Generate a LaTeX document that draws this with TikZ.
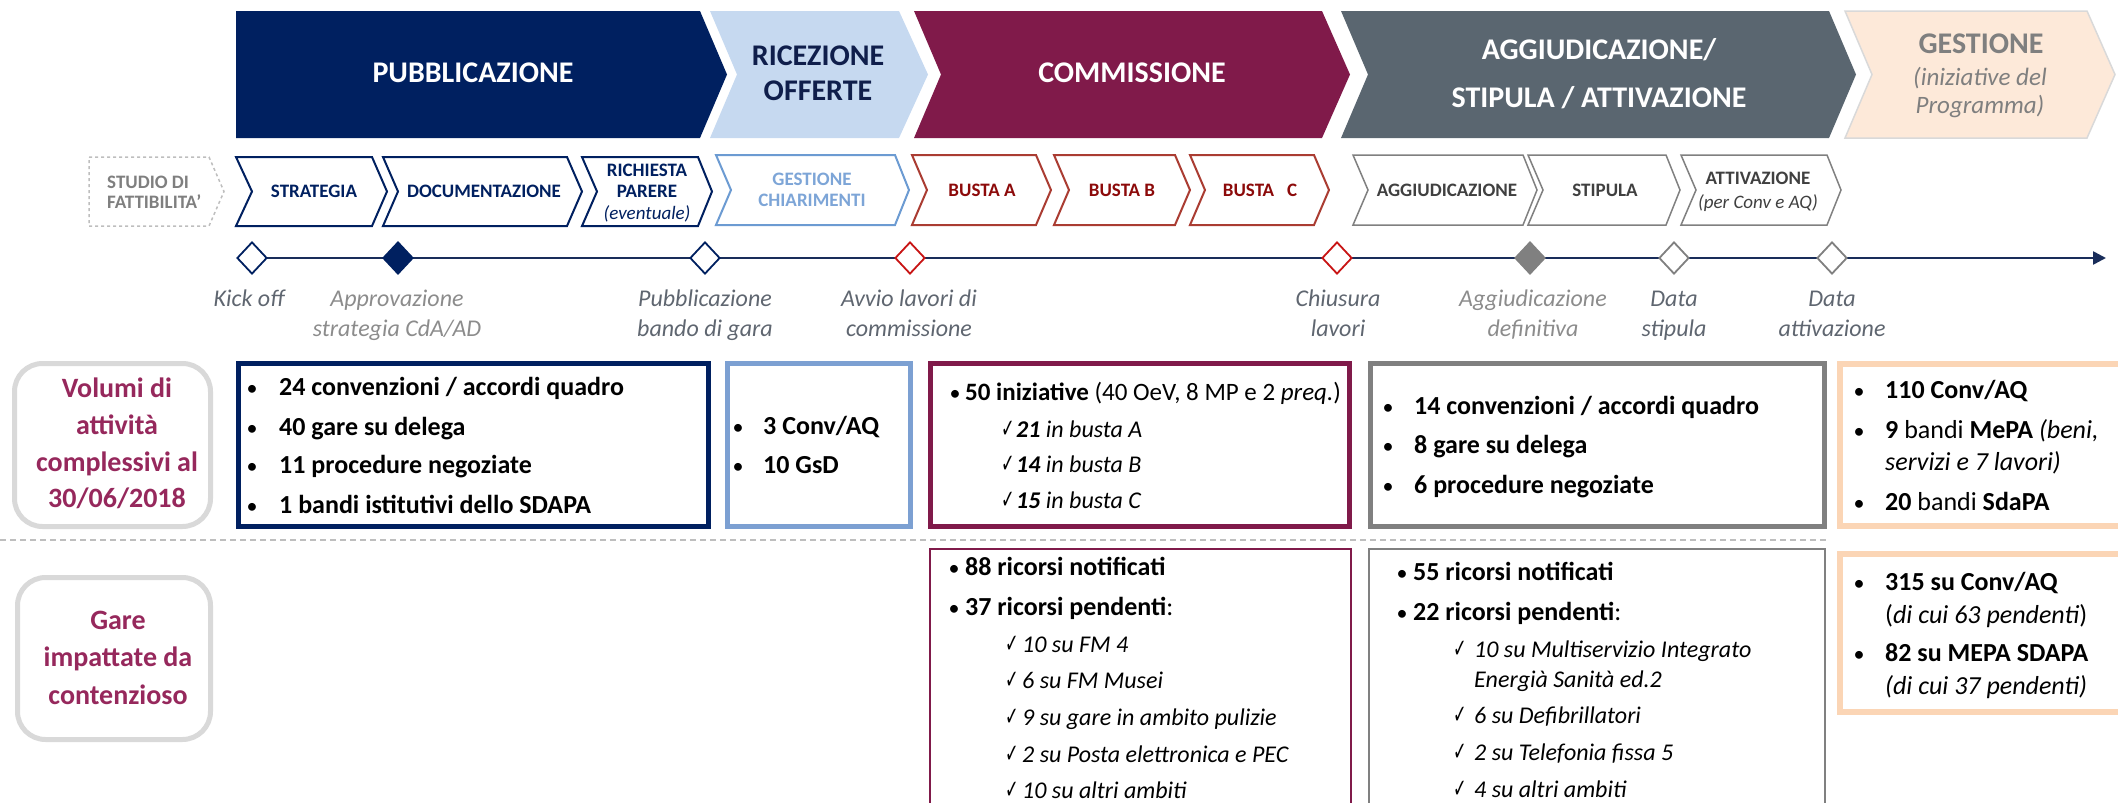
\documentclass[tikz,border=0pt]{standalone}
\usepackage{fontspec}
\setmainfont{Carlito}
\newfontfamily\djv{DejaVu Sans}
\usetikzlibrary{shapes.geometric,arrows.meta}
\definecolor{navy}{RGB}{0,32,96}
\definecolor{tlnavy}{RGB}{25,45,90}
\definecolor{ricfill}{RGB}{198,217,240}
\definecolor{ricedge}{RGB}{124,160,210}
\definecolor{ricsmall}{RGB}{108,155,210}
\definecolor{ricstext}{RGB}{125,165,215}
\definecolor{ricnavy}{RGB}{15,30,75}
\definecolor{maroon}{RGB}{128,26,74}
\definecolor{maroonl}{RGB}{150,40,92}
\definecolor{slate}{RGB}{90,102,112}
\definecolor{peachfill}{RGB}{253,233,217}
\definecolor{peach}{RGB}{251,213,181}
\definecolor{bustaedge}{RGB}{170,60,50}
\definecolor{bustatext}{RGB}{140,10,10}
\definecolor{redd}{RGB}{200,20,20}
\definecolor{greyb}{RGB}{128,128,128}
\definecolor{greyt}{RGB}{64,64,64}
\definecolor{lblgrey}{RGB}{95,102,112}
\definecolor{lblgreyl}{RGB}{140,140,140}
\definecolor{lightgrey}{RGB}{217,217,217}
\definecolor{dashgrey}{RGB}{190,190,190}
\definecolor{gestext}{RGB}{127,127,127}
\newcommand\fsz[2]{\fontsize{#1}{#2}\selectfont}
\newcommand\chev[7]{\path[#7] (#1,#5) -- (#3,#5) -- (#4,{(#5+#6)/2}) -- (#3,#6) -- (#1,#6) -- (#2,{(#5+#6)/2}) -- cycle;}
\newcommand\ck{\scalebox{0.62}[1]{\djv\fontsize{26}{28}\selectfont ✓}}
\begin{document}
\begin{tikzpicture}[x=1pt,y=-1pt,
  every node/.style={inner sep=0pt, anchor=base},
  big/.style={font=\fsz{30}{36}\bfseries},
  bigi/.style={font=\fsz{25}{28}\itshape},
  sm/.style={font=\fsz{19}{21}\bfseries},
  smi/.style={font=\fsz{19}{21}\itshape},
  lbl/.style={font=\fsz{24}{28}\itshape},
  side/.style={font=\fsz{28}{32}\bfseries, text=maroonl},
  li/.style={font=\fsz{26}{30}, anchor=base west},
  lit/.style={font=\fsz{24}{28}\itshape, anchor=base west},
  bul/.style={font=\fsz{22}{24}, anchor=base},
  cki/.style={anchor=base west},
  dia/.style={diamond, minimum width=30pt, minimum height=32pt, inner sep=0pt, anchor=center, line width=1.8pt, fill=white},
  smallnav/.style={draw=navy, line width=2pt, fill=white},
  smallric/.style={draw=ricsmall, line width=2pt, fill=white},
  smallbus/.style={draw=bustaedge, line width=2pt, fill=white},
  smallgry/.style={draw=greyb, line width=1.5pt, fill=white},
  sidebox/.style={draw=lightgrey, line width=5pt, rounded corners=28pt, fill=white}
]
\useasboundingbox (0,0) rectangle (2118,803);
\clip (0,0) rectangle (2118,803);

% ---------- big chevrons ----------
\chev{236}{236}{700}{727}{11}{138}{fill=navy}
\chev{710}{737}{899}{928}{11}{138}{fill=ricfill}
\chev{914}{941}{1322}{1350}{11}{138}{fill=maroon}
\chev{1341}{1368}{1829}{1856}{11}{138}{fill=slate}
\chev{1845}{1872}{2087}{2115}{11}{138}{fill=peachfill, draw=lightgrey, line width=1.5pt}

\node[big, text=white] (bpub) at (473,82) {PUBBLICAZIONE};
\node[big, text=ricnavy] (bric1) at (818,65) {RICEZIONE};
\node[big, text=ricnavy] (bric2) at (818,100) {OFFERTE};
\node[big, text=white] (bcom) at (1132,82) {COMMISSIONE};
\node[big, text=white] (bagg1) at (1599,59) {AGGIUDICAZIONE/};
\node[big, text=white] (bagg2) at (1599,107) {STIPULA / ATTIVAZIONE};
\node[big, text=gestext] (bges1) at (1981,53) {GESTIONE};
\node[bigi, text=gestext] (bges2) at (1980,85) {(iniziative del};
\node[bigi, text=gestext] (bges3) at (1980,113) {Programma)};

% ---------- small chevrons ----------
\chev{89}{89}{209}{224}{157}{226}{draw=dashgrey, dashed, line width=1.5pt}
\chev{236}{252}{372}{387}{157}{226}{smallnav}
\chev{383}{398}{567}{582}{157}{226}{smallnav}
\chev{582}{597}{698}{712}{157}{226}{smallnav}
\chev{716}{731}{895}{909}{155}{225}{smallric}
\chev{912}{927}{1036}{1051}{155}{225}{smallbus}
\chev{1054}{1069}{1175}{1190}{155}{225}{smallbus}
\chev{1190}{1205}{1314}{1329}{155}{225}{smallbus}
\chev{1353}{1368}{1523}{1537}{155}{225}{smallgry}
\chev{1528}{1543}{1666}{1680}{155}{225}{smallgry}
\chev{1681}{1696}{1827}{1841}{155}{225}{smallgry}

\node[sm, text=gestext, anchor=base west] (sstu1) at (107,188) {STUDIO DI};
\node[sm, text=gestext, anchor=base west] (sstu2) at (107,208) {FATTIBILITA’};
\node[sm, text=navy] (sstr) at (314,197) {STRATEGIA};
\node[sm, text=navy] (sdoc) at (484,197) {DOCUMENTAZIONE};
\node[sm, text=navy] (sric1) at (647,176) {RICHIESTA};
\node[sm, text=navy] (sric2) at (647,197) {PARERE};
\node[smi, text=navy] (sric3) at (647,219) {(eventuale)};
\node[sm, text=ricstext] (sges1) at (812,185) {GESTIONE};
\node[sm, text=ricstext] (sges2) at (812,206) {CHIARIMENTI};
\node[sm, text=bustatext] (sba) at (982,196) {BUSTA A};
\node[sm, text=bustatext] (sbb) at (1122,196) {BUSTA B};
\node[sm, text=bustatext] (sbc) at (1260,196) {BUSTA\ \ \ C};
\node[sm, text=greyt] (sagg) at (1447,196) {AGGIUDICAZIONE};
\node[sm, text=greyt] (sstp) at (1605,196) {STIPULA};
\node[sm, text=greyt] (satt1) at (1758,184) {ATTIVAZIONE};
\node[smi, text=greyt] (satt2) at (1758,208) {(per Conv e AQ)};

% ---------- timeline ----------
\coordinate (tls) at (252,258);
\coordinate (tle) at (2106,258);
\draw[tlnavy, line width=2.5pt, -{Triangle[length=13pt,width=13pt]}] (tls) -- (tle);
\node[dia, draw=navy] (m1) at (252,258) {};
\node[dia, draw=navy, fill=navy] (m2) at (398,258) {};
\node[dia, draw=navy] (m3) at (705,258) {};
\node[dia, draw=redd] (m4) at (910,258) {};
\node[dia, draw=redd] (m5) at (1337,258) {};
\node[dia, draw=greyb, fill=greyb] (m6) at (1530,258) {};
\node[dia, draw=greyb] (m7) at (1674,258) {};
\node[dia, draw=greyb] (m8) at (1832,258) {};

\node[lbl, text=lblgrey] (l1) at (249,306) {Kick off};
\node[lbl, text=lblgreyl] (l2a) at (397,306) {Approvazione};
\node[lbl, text=lblgreyl] (l2b) at (397,336) {strategia CdA/AD};
\node[lbl, text=lblgrey] (l3a) at (705,306) {Pubblicazione};
\node[lbl, text=lblgrey] (l3b) at (705,336) {bando di gara};
\node[lbl, text=lblgrey] (l4a) at (909,306) {Avvio lavori di};
\node[lbl, text=lblgrey] (l4b) at (909,336) {commissione};
\node[lbl, text=lblgrey] (l5a) at (1338,306) {Chiusura};
\node[lbl, text=lblgrey] (l5b) at (1338,336) {lavori};
\node[lbl, text=lblgreyl] (l6a) at (1533,306) {Aggiudicazione};
\node[lbl, text=lblgreyl] (l6b) at (1533,336) {definitiva};
\node[lbl, text=lblgrey] (l7a) at (1674,306) {Data};
\node[lbl, text=lblgrey] (l7b) at (1674,336) {stipula};
\node[lbl, text=lblgrey] (l8a) at (1832,306) {Data};
\node[lbl, text=lblgrey] (l8b) at (1832,336) {attivazione};

% ---------- separator ----------
\coordinate (sep1) at (0,540);
\coordinate (sep2) at (1828,540);
\draw[dashgrey, line width=2pt, dash pattern=on 6pt off 4pt] (sep1) -- (sep2);

% ---------- side labels ----------
\path[sidebox] (14.5,363.5) rectangle (210.5,526.5);
\path[sidebox] (17.5,577.5) rectangle (210.5,739.5);
\node[side] (v1) at (117,397) {Volumi di};
\node[side] (v2) at (117,434) {attività};
\node[side] (v3) at (117,471) {complessivi al};
\node[side] (v4) at (117,507) {30/06/2018};
\node[side] (g1) at (118,629) {Gare};
\node[side] (g2) at (118,666) {impattate da};
\node[side] (g3) at (118,704) {contenzioso};

% ---------- upper boxes ----------
\draw[navy, line width=5pt] (238.5,363.5) rectangle (708.5,526.5);
\draw[ricedge, line width=5pt] (727.5,363.5) rectangle (910.5,526.5);
\draw[maroon, line width=5pt] (930.5,363.5) rectangle (1349.5,526.5);
\draw[greyb, line width=5pt] (1370.5,363.5) rectangle (1824.5,526.5);
\draw[peach, line width=6pt] (1840,364) rectangle (2140,526);

% PUBBLICAZIONE list
\node[bul] (p1b) at (252,395) {•};
\node[li] (p1) at (279,395) {\bfseries 24 convenzioni / accordi quadro};
\node[bul] (p2b) at (252,435) {•};
\node[li] (p2) at (279,435) {\bfseries 40 gare su delega};
\node[bul] (p3b) at (252,473) {•};
\node[li] (p3) at (279,473) {\bfseries 11 procedure negoziate};
\node[bul] (p4b) at (252,513) {•};
\node[li] (p4) at (279,513) {\bfseries 1 bandi istitutivi dello SDAPA};

% RICEZIONE list
\node[bul] (r1b) at (738,434) {•};
\node[li] (r1) at (763,434) {\bfseries 3 Conv/AQ};
\node[bul] (r2b) at (738,473) {•};
\node[li] (r2) at (763,473) {\bfseries 10 GsD};

% COMMISSIONE list
\node[bul] (c1b) at (955,400) {•};
\node[li, font=\fsz{25}{30}] (c1) at (965,400) {{\bfseries 50 iniziative} (40 OeV, 8 MP e 2 \textit{preq.})};
\node[cki] (c2k) at (1001,437) {\ck};
\node[lit] (c2) at (1016,437) {{\bfseries 21} in busta A};
\node[cki] (c3k) at (1001,472) {\ck};
\node[lit] (c3) at (1016,472) {{\bfseries 14} in busta B};
\node[cki] (c4k) at (1001,508) {\ck};
\node[lit] (c4) at (1016,508) {{\bfseries 15} in busta C};

% AGGIUDICAZIONE list
\node[bul] (a1b) at (1388,414) {•};
\node[li] (a1) at (1414,414) {\bfseries 14 convenzioni / accordi quadro};
\node[bul] (a2b) at (1388,453) {•};
\node[li] (a2) at (1414,453) {\bfseries 8 gare su delega};
\node[bul] (a3b) at (1388,493) {•};
\node[li] (a3) at (1414,493) {\bfseries 6 procedure negoziate};

% GESTIONE list
\node[bul] (e1b) at (1859,398) {•};
\node[li] (e1) at (1885,398) {\bfseries 110 Conv/AQ};
\node[bul] (e2b) at (1859,438) {•};
\node[li] (e2) at (1885,438) {{\bfseries 9} bandi {\bfseries MePA} \textit{(beni,}};
\node[li] (e3) at (1885,470) {\itshape servizi e 7 lavori)};
\node[bul] (e4b) at (1859,510) {•};
\node[li] (e4) at (1885,510) {{\bfseries 20} bandi {\bfseries SdaPA}};

% ---------- lower boxes ----------
\draw[maroon, line width=2pt] (929.5,548.5) rectangle (1350.5,830);
\draw[greyb, line width=1.5pt] (1369,549) rectangle (1825,830);
\draw[peach, line width=6pt] (1840,554) rectangle (2140,712);

% COMMISSIONE lower
\node[bul] (cl1b) at (954,575) {•};
\node[li] (cl1) at (965,575) {\bfseries 88 ricorsi notificati};
\node[bul] (cl2b) at (954,615) {•};
\node[li] (cl2) at (965,615) {{\bfseries 37 ricorsi pendenti}:};
\node[cki] (cl3k) at (1005,652) {\ck};
\node[lit] (cl3) at (1022,652) {10 su FM 4};
\node[cki] (cl4k) at (1005,688) {\ck};
\node[lit] (cl4) at (1022,688) {6 su FM Musei};
\node[cki] (cl5k) at (1005,725) {\ck};
\node[lit] (cl5) at (1022,725) {9 su gare in ambito pulizie};
\node[cki] (cl6k) at (1005,762) {\ck};
\node[lit] (cl6) at (1022,762) {2 su Posta elettronica e PEC};
\node[cki] (cl7k) at (1005,798) {\ck};
\node[lit] (cl7) at (1022,798) {10 su altri ambiti};

% AGGIUDICAZIONE lower
\node[bul] (al1b) at (1402,580) {•};
\node[li] (al1) at (1413,580) {\bfseries 55 ricorsi notificati};
\node[bul] (al2b) at (1402,620) {•};
\node[li] (al2) at (1413,620) {{\bfseries 22 ricorsi pendenti}:};
\node[cki] (al3k) at (1453,657) {\ck};
\node[lit] (al3) at (1474,657) {10 su Multiservizio Integrato};
\node[lit] (al4) at (1474,687) {Energià Sanità ed.2};
\node[cki] (al5k) at (1453,723) {\ck};
\node[lit] (al5) at (1474,723) {6 su Defibrillatori};
\node[cki] (al6k) at (1453,760) {\ck};
\node[lit] (al6) at (1474,760) {2 su Telefonia fissa 5};
\node[cki] (al7k) at (1453,797) {\ck};
\node[lit] (al7) at (1474,797) {4 su altri ambiti};

% GESTIONE lower
\node[bul] (el1b) at (1859,590) {•};
\node[li] (el1) at (1885,590) {\bfseries 315 su Conv/AQ};
\node[li] (el2) at (1885,623) {(\textit{di cui 63 pendenti})};
\node[bul] (el3b) at (1859,661) {•};
\node[li] (el3) at (1885,661) {\bfseries 82 su MEPA SDAPA};
\node[li] (el4) at (1885,694) {\itshape (di cui 37 pendenti)};
\end{tikzpicture}
\end{document}
